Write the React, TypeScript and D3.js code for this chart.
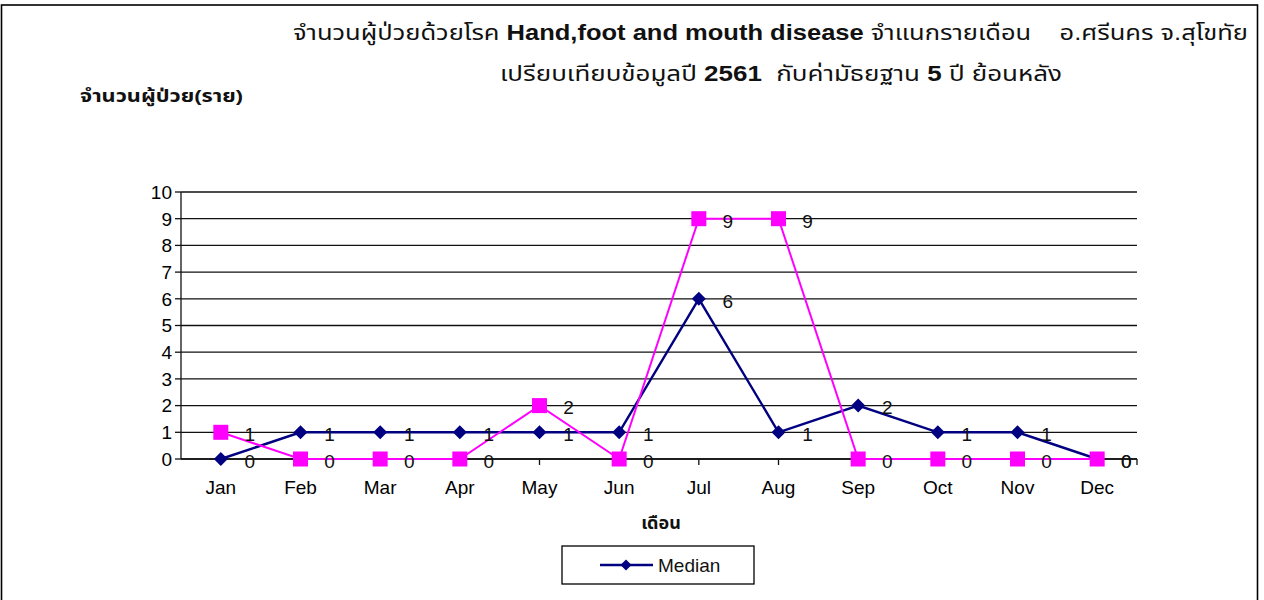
import React from "react";
import * as d3 from "d3";

const months = ["Jan", "Feb", "Mar", "Apr", "May", "Jun", "Jul", "Aug", "Sep", "Oct", "Nov", "Dec"];
const medianValues = [0, 1, 1, 1, 1, 1, 6, 1, 2, 1, 1, 0];
const year2561Values = [1, 0, 0, 0, 2, 0, 9, 9, 0, 0, 0, 0];
const yTicks = [0, 1, 2, 3, 4, 5, 6, 7, 8, 9, 10];

// title pieces: [text, bold]
const titleLine1: [string, boolean][] = [
  ["จำนวนผู้ป่วยด้วยโรค ", false],
  ["Hand,foot and mouth disease", true],
  [" จำแนกรายเดือน    อ.ศรีนคร จ.สุโขทัย", false],
];
const titleLine2: [string, boolean][] = [
  ["เปรียบเทียบข้อมูลปี ", false],
  ["2561", true],
  ["  กับค่ามัธยฐาน ", false],
  ["5", true],
  [" ปี ย้อนหลัง", false],
];
const yLabel = "จำนวนผู้ป่วย(ราย)";
const xLabel = "เดือน";
const legendLabel = "Median";

const W = 1264;
const H = 600;
const left = 181;
const right = 1137;
const top = 192;
const bottom = 459;

const FONT = "Arial, 'Liberation Sans', 'Noto Sans Thai', 'Noto Sans', sans-serif";

export default function App() {
  const x = d3.scaleBand<string>().domain(months).range([left, right]);
  const cx = (m: string) => (x(m) as number) + x.bandwidth() / 2;
  const y = d3.scaleLinear().domain([0, 10]).range([bottom, top]);

  const line = d3
    .line<number>()
    .x((_, i) => cx(months[i]))
    .y((v) => y(v));

  const diamond = (px: number, py: number, r: number) =>
    `M${px},${py - r}L${px + r},${py}L${px},${py + r}L${px - r},${py}Z`;

  return (
    <svg
      width={W}
      height={H}
      style={{ position: "absolute", left: 0, top: 0, background: "#fff" }}
      fontFamily={FONT}
    >
      <rect x={0} y={0} width={W} height={H} fill="#fff" />
      <rect x={1.5} y={5} width={1256} height={620} fill="none" stroke="#000" strokeWidth={1.6} />

      {/* titles */}
      <text
        x={293}
        y={40}
        fontSize={22}
        fill="#111"
        textLength={955}
        lengthAdjust="spacingAndGlyphs"
        style={{ whiteSpace: "pre" }}
      >
        {titleLine1.map(([t, b], i) => (
          <tspan key={i} fontWeight={b ? "bold" : "normal"}>
            {t}
          </tspan>
        ))}
      </text>
      <text
        x={500}
        y={81}
        fontSize={22}
        fill="#111"
        textLength={562}
        lengthAdjust="spacingAndGlyphs"
        style={{ whiteSpace: "pre" }}
      >
        {titleLine2.map(([t, b], i) => (
          <tspan key={i} fontWeight={b ? "bold" : "normal"}>
            {t}
          </tspan>
        ))}
      </text>
      <text
        x={80}
        y={102}
        fontSize={17}
        fontWeight="bold"
        fill="#111"
        textLength={163}
        lengthAdjust="spacingAndGlyphs"
      >
        {yLabel}
      </text>

      {/* gridlines */}
      {yTicks.map((t) => (
        <g key={t}>
          <line x1={left} x2={right} y1={y(t)} y2={y(t)} stroke="#111" strokeWidth={1.3} />
          <line x1={left - 6} x2={left} y1={y(t)} y2={y(t)} stroke="#111" strokeWidth={1.3} />
          <text x={left - 9} y={y(t)} dy="0.36em" textAnchor="end" fontSize={19} fill="#000">
            {t}
          </text>
        </g>
      ))}
      {/* axes */}
      <line x1={left} x2={left} y1={top} y2={bottom} stroke="#111" strokeWidth={1.3} />
      <line x1={left} x2={right} y1={bottom} y2={bottom} stroke="#111" strokeWidth={1.3} />
      {months.map((m) => (
        <g key={m}>
          <line x1={cx(m)} x2={cx(m)} y1={bottom} y2={bottom + 6} stroke="#111" strokeWidth={1.3} />
          <text x={cx(m)} y={494} textAnchor="middle" fontSize={19} fill="#000">
            {m}
          </text>
        </g>
      ))}
      <line x1={right} x2={right} y1={bottom} y2={bottom + 6} stroke="#111" strokeWidth={1.3} />
      <text x={661} y={529} textAnchor="middle" fontSize={18} fontWeight="bold" fill="#111">
        {xLabel}
      </text>

      {/* median series */}
      <path d={line(medianValues) || ""} fill="none" stroke="#000080" strokeWidth={2.4} />
      {/* 2561 series */}
      <path d={line(year2561Values) || ""} fill="none" stroke="#FF00FF" strokeWidth={2} />

      {medianValues.map((v, i) => (
        <path key={"md" + i} d={diamond(cx(months[i]), y(v), 7)} fill="#000080" />
      ))}
      {year2561Values.map((v, i) => (
        <rect
          key={"ys" + i}
          x={cx(months[i]) - 7.5}
          y={y(v) - 7.5}
          width={15}
          height={15}
          fill="#FF00FF"
        />
      ))}

      {/* data labels */}
      {medianValues.map((v, i) => (
        <text
          key={"ml" + i}
          x={cx(months[i]) + 29}
          y={y(v) + 2}
          dy="0.36em"
          textAnchor="middle"
          fontSize={19}
          fill="#111"
        >
          {v}
        </text>
      ))}
      {year2561Values.map((v, i) => (
        <text
          key={"yl" + i}
          x={cx(months[i]) + 29}
          y={y(v) + 2}
          dy="0.36em"
          textAnchor="middle"
          fontSize={19}
          fill="#111"
        >
          {v}
        </text>
      ))}

      {/* legend */}
      <rect x={562} y={546} width={192} height={38} fill="#fff" stroke="#000" strokeWidth={1.3} />
      <line x1={600} x2={653} y1={565} y2={565} stroke="#000080" strokeWidth={2.4} />
      <path d={diamond(626, 565, 5.5)} fill="#000080" />
      <text x={658} y={565} dy="0.36em" fontSize={19} fill="#111">
        {legendLabel}
      </text>
    </svg>
  );
}
